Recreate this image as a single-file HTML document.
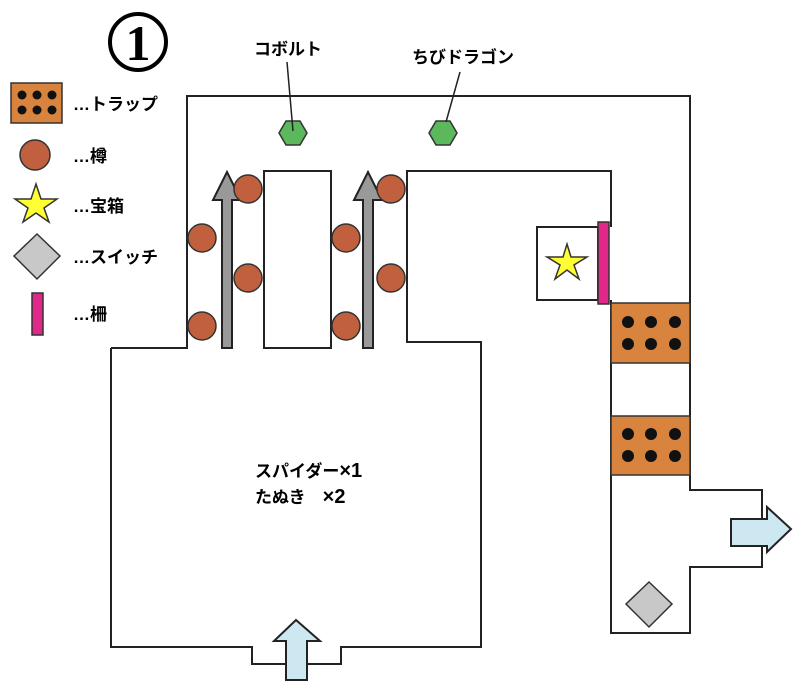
<!DOCTYPE html>
<html><head><meta charset="utf-8"><style>
body{margin:0;background:#fff}
svg{display:block}
text{font-family:"Liberation Sans","Noto Sans CJK JP",sans-serif;fill:#000}
</style></head><body>
<svg width="800" height="688" viewBox="0 0 800 688" xmlns="http://www.w3.org/2000/svg">
<g fill="none" stroke="#222" stroke-width="2">
<polyline points="111,348 187,348 187,96 690,96 690,490 762,490 762,567 690,567 690,633 611,633 611,300"/>
<polyline points="111,348 111,647 252,647 252,664 341,664 341,647 481,647 481,342 407,342 407,171 611,171 611,227"/>
<rect x="264" y="171" width="67" height="177"/>
<rect x="537" y="227" width="61" height="73"/>
</g>
<g fill="#999" stroke="#222" stroke-width="2">
<polygon points="222,348 222,200 213,200 227,172 241,200 232,200 232,348"/>
<polygon points="363,348 363,200 354,200 368,172 382,200 373,200 373,348"/>
</g>
<g fill="#c0603e" stroke="#333" stroke-width="1.5">
<circle cx="248" cy="189" r="14"/><circle cx="202" cy="238" r="14"/><circle cx="248" cy="278" r="14"/><circle cx="202" cy="326" r="14"/>
<circle cx="346" cy="238" r="14"/><circle cx="346" cy="326" r="14"/><circle cx="391" cy="189" r="14"/><circle cx="391" cy="278" r="14"/>
<circle cx="35" cy="155" r="15"/>
</g>
<g fill="#5cb85c" stroke="#333" stroke-width="1.5">
<polygon points="279,133 286,121 300,121 307,133 300,145 286,145"/>
<polygon points="429,133 436,121 450,121 457,133 450,145 436,145"/>
</g>
<g stroke="#222" stroke-width="1.5">
<line x1="287" y1="62" x2="293" y2="131"/>
<line x1="460" y1="72" x2="446" y2="122"/>
</g>
<rect x="598" y="222" width="11" height="82" fill="#e0288a" stroke="#333" stroke-width="1.5"/>
<rect x="32" y="293" width="11" height="42" fill="#e0288a" stroke="#333" stroke-width="1.5"/>
<polygon fill="#ffff33" stroke="#333" stroke-width="1.5" points="567,244 571,257 587,257 574,265 579,279 567,270 555,279 560,265 547,257 563,257"/>
<polygon fill="#ffff33" stroke="#333" stroke-width="1.5" points="36,184 41,199 57,199 44,208 49,222 36,213 23,222 28,208 15,199 31,199"/>
<g fill="#d8843f" stroke="#333" stroke-width="1.5">
<rect x="611" y="303" width="79" height="60"/>
<rect x="611" y="416" width="79" height="59"/>
<rect x="11" y="83" width="51" height="40"/>
</g>
<g fill="#111">
<circle cx="628" cy="322" r="6"/><circle cx="651" cy="322" r="6"/><circle cx="675" cy="322" r="6"/>
<circle cx="628" cy="344" r="6"/><circle cx="651" cy="344" r="6"/><circle cx="675" cy="344" r="6"/>
<circle cx="628" cy="434" r="6"/><circle cx="651" cy="434" r="6"/><circle cx="675" cy="434" r="6"/>
<circle cx="628" cy="456" r="6"/><circle cx="651" cy="456" r="6"/><circle cx="675" cy="456" r="6"/>
<circle cx="22" cy="95" r="4.5"/><circle cx="37" cy="95" r="4.5"/><circle cx="52" cy="95" r="4.5"/>
<circle cx="22" cy="110" r="4.5"/><circle cx="37" cy="110" r="4.5"/><circle cx="52" cy="110" r="4.5"/>
</g>
<polygon fill="#c8c8c8" stroke="#333" stroke-width="1.5" points="649,582 672,604 649,627 626,604"/>
<polygon fill="#c8c8c8" stroke="#333" stroke-width="1.5" points="37,234 60,256 37,279 14,256"/>
<polygon fill="#cde8f0" stroke="#222" stroke-width="2" points="731,519 767,519 767,507 791,529 767,552 767,546 731,546"/>
<polygon fill="#cde8f0" stroke="#222" stroke-width="2" points="286,680 286,641 274,641 296,620 320,641 307,641 307,680"/>
<circle cx="138" cy="42" r="28" fill="none" stroke="#000" stroke-width="4"/>
<text x="138" y="60" font-size="50" font-weight="bold" text-anchor="middle" style="font-family:'Liberation Serif',serif">1</text>
<g font-size="17" font-weight="bold">
<text x="254" y="55">コボルト</text>
<text x="412" y="63">ちびドラゴン</text>
<text x="73" y="110">…トラップ</text>
<text x="73" y="162">…樽</text>
<text x="73" y="212">…宝箱</text>
<text x="73" y="263">…スイッチ</text>
<text x="73" y="320">…柵</text>
<text x="255" y="477">スパイダー<tspan font-size="20">×1</tspan></text>
<text x="255" y="503">たぬき　<tspan font-size="20">×2</tspan></text>
</g>
</svg>
</body></html>
